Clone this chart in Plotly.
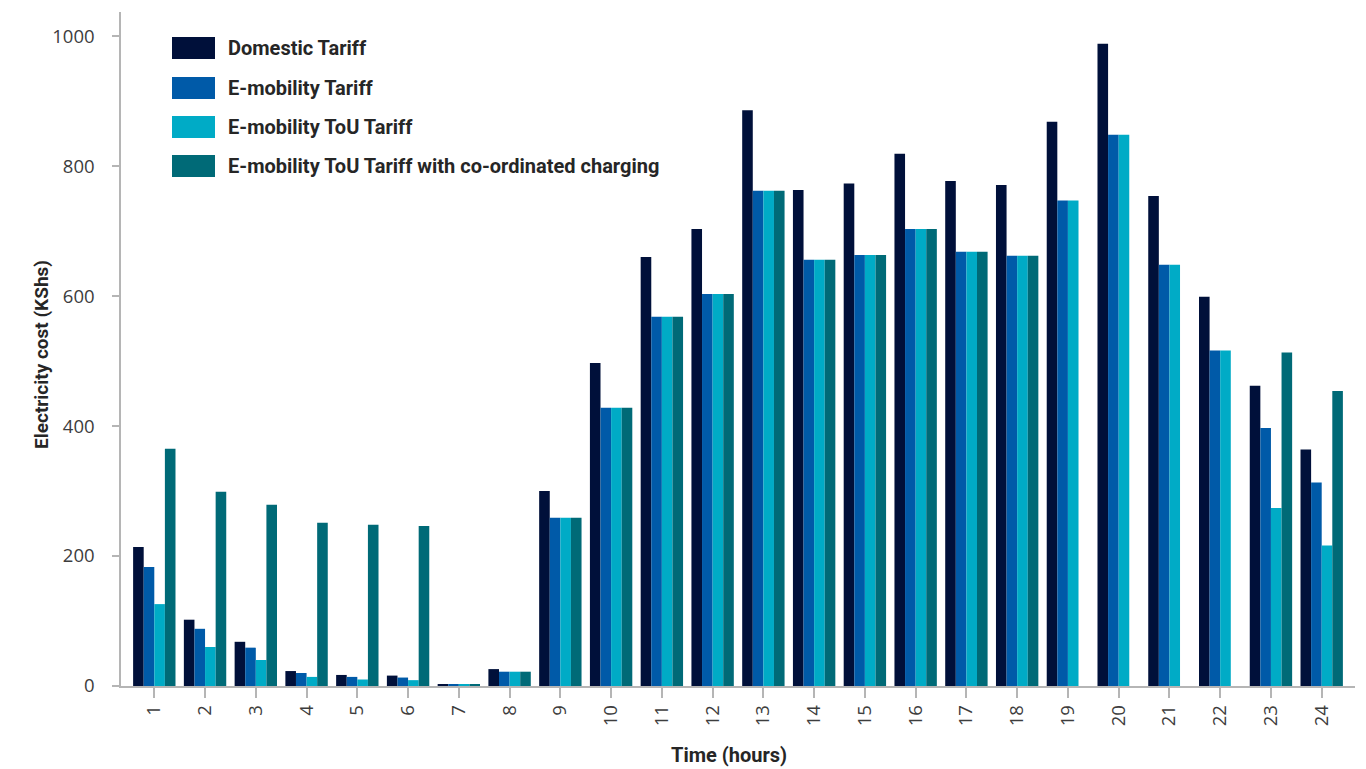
import plotly.graph_objects as go

hours = list(range(1, 25))
domestic = [214, 102, 68, 23, 17, 16, 3, 26, 300, 497, 660, 703, 886, 763, 773, 819, 777, 771, 868, 988, 754, 599, 462, 364]
emobility = [183, 88, 59, 20, 14, 13, 3, 22, 259, 428, 568, 603, 762, 656, 663, 703, 668, 662, 747, 848, 648, 516, 397, 313]
emob_tou = [126, 60, 40, 14, 10, 9, 3, 22, 259, 428, 568, 603, 762, 656, 663, 703, 668, 662, 747, 848, 648, 516, 274, 216]
emob_tou_coord = [365, 299, 279, 251, 248, 246, 3, 22, 259, 428, 568, 603, 762, 656, 663, 703, 668, 662, None, None, None, None, 513, 454]

series_names = [
    "Domestic Tariff",
    "E-mobility Tariff",
    "E-mobility ToU Tariff",
    "E-mobility ToU Tariff with co-ordinated charging",
]
series_values = [domestic, emobility, emob_tou, emob_tou_coord]
colors = ["#00103a", "#005aa8", "#00abc6", "#006a77"]
y_ticks = [0, 200, 400, 600, 800, 1000]

W, H = 1366, 769
L, R, T, B = 121, 1355, 12, 686

def px(x):
    return (x - L) / (R - L)

def py(y):
    return (B - y) / (B - T)

fig = go.Figure()
for name, vals, col in zip(series_names, series_values, colors):
    fig.add_trace(go.Bar(x=hours, y=vals, name=name, marker=dict(color=col, line=dict(width=0)),
                         showlegend=False))

TICKFONT = dict(family="Open Sans, Noto Sans, sans-serif", size=18.5, color="#3d3d3d")
BOLD = "Roboto, Liberation Sans, sans-serif"
TXT = "#262626"

shapes = []
annotations = []
legend_rows = [48, 88, 127, 166]
for name, col, yc in zip(series_names, colors, legend_rows):
    shapes.append(dict(type="rect", xref="paper", yref="paper",
                       x0=px(172), x1=px(215), y0=py(yc + 11), y1=py(yc - 11),
                       fillcolor=col, line=dict(width=0)))
    annotations.append(dict(xref="paper", yref="paper", x=px(226), y=py(yc), text="<b>%s</b>" % name,
                            showarrow=False, xanchor="left", yanchor="middle",
                            font=dict(family=BOLD, size=20, color=TXT)))

annotations.append(dict(xref="paper", yref="paper", x=px(41), y=py(355), text="<b>Electricity cost (KShs)</b>",
                        textangle=-90, showarrow=False, xanchor="center", yanchor="middle",
                        font=dict(family=BOLD, size=19, color=TXT)))
annotations.append(dict(xref="paper", yref="paper", x=px(729), y=py(755), text="<b>Time (hours)</b>",
                        showarrow=False, xanchor="center", yanchor="middle",
                        font=dict(family=BOLD, size=20, color=TXT)))

fig.update_layout(
    width=W, height=H,
    margin=dict(l=L, r=W - R, t=T, b=H - B, pad=0),
    paper_bgcolor="white", plot_bgcolor="white",
    barmode="group", bargap=0.165, bargroupgap=0,
    shapes=shapes, annotations=annotations,
    xaxis=dict(range=[0.344, 24.656], tickmode="array", tickvals=hours, ticktext=[str(h) for h in hours],
               tickangle=-90, ticks="outside", ticklen=10, tickwidth=1.5, tickcolor="#b5b5b5",
               showline=True, linecolor="#b5b5b5", linewidth=1.5, showgrid=False, zeroline=False,
               tickfont=TICKFONT),
    yaxis=dict(range=[0, 1037], tickmode="array", tickvals=y_ticks, ticks="outside", ticklen=7,
               tickwidth=1.5, tickcolor="#b5b5b5", showline=True, linecolor="#b5b5b5", linewidth=1.5,
               showgrid=False, zeroline=False, tickfont=TICKFONT, ticklabelstandoff=14),
)

fig.write_html("out.html", config={"displayModeBar": False},
               post_script="document.body.style.margin='0';")
